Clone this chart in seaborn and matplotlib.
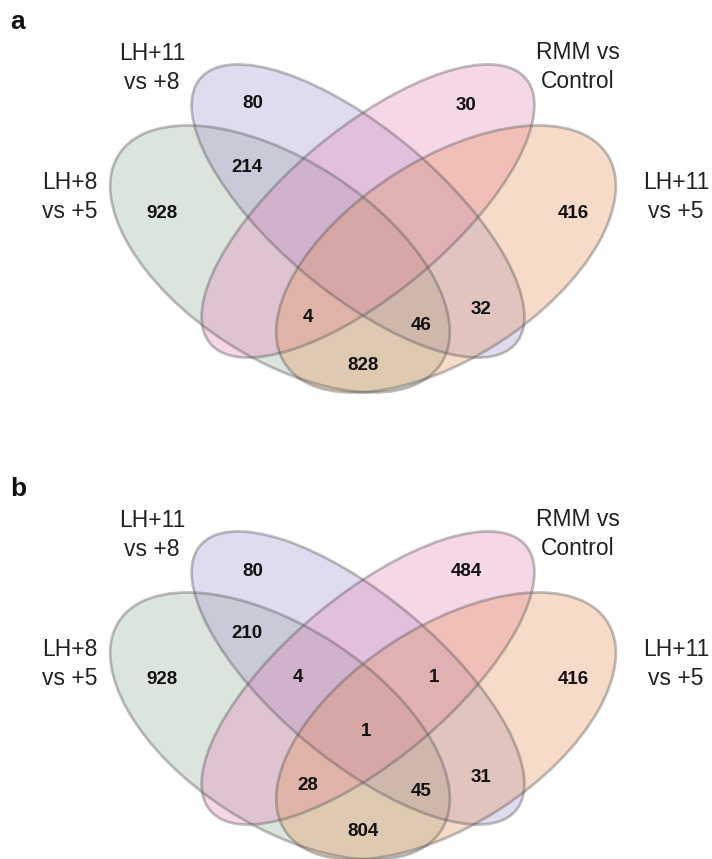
import matplotlib
matplotlib.use("Agg")
import matplotlib.pyplot as plt
import seaborn as sns
from matplotlib.patches import Ellipse

# set names (A = LH+8 vs +5, B = LH+11 vs +8, C = RMM vs Control, D = LH+11 vs +5)
set_names = ["LH+8\nvs +5", "LH+11\nvs +8", "RMM vs\nControl", "LH+11\nvs +5"]
set_colors = ["#8ea894", "#9b8eca", "#e47db6", "#e48e4b"]

# regions of the 4-set venn, counts (None = empty)
region_keys = ["A", "B", "C", "D", "AB", "AC", "AD", "BC", "BD", "CD",
               "ABC", "ABD", "ACD", "BCD", "ABCD"]
counts_a = [928, 80, 30, 416, 214, None, 828, None, 32, None,
            None, 46, 4, None, None]
counts_b = [928, 80, 484, 416, 210, None, 804, None, 31, None,
            4, 45, 28, 1, 1]
panel_letters = ["a", "b"]

sns.set_theme(style="white")
plt.rcParams["font.family"] = ["Liberation Sans", "DejaVu Sans"]

# ellipse geometry in pixels, relative to panel top (x, y, width, height, angle)
ellipses = [
    (280, 259, 384, 198, 33),
    (358, 211, 412, 164, 40),
    (368, 211, 412, 164, -40),
    (446, 259, 384, 198, -33),
]
name_pos = [(70, 197), (152, 68), (578, 67), (676, 197)]
label_pos = {
    "A": (162, 213), "B": (253, 104), "C": (466, 105), "D": (573, 213),
    "AB": (247, 167), "AC": (250, 310), "AD": (363, 365), "BC": (363, 150),
    "BD": (481, 310), "CD": (480, 167), "ABC": (298, 211), "ABD": (421, 325),
    "ACD": (308, 318), "BCD": (434, 210), "ABCD": (366, 265),
}
panel_top = [0, 467]

fig = plt.figure(figsize=(7.12, 8.59), dpi=100)
ax = fig.add_axes([0, 0, 1, 1])
ax.set_xlim(0, 712)
ax.set_ylim(859, 0)
ax.axis("off")

for letter, counts, y0 in zip(panel_letters, [counts_a, counts_b], panel_top):
    # filled ellipses
    for (cx, cy, w, h, ang), col in zip(ellipses, set_colors):
        ax.add_patch(Ellipse((cx, cy + y0), w, h, angle=ang, facecolor=col,
                             edgecolor="none", alpha=0.3))
    # outlines
    for (cx, cy, w, h, ang) in ellipses:
        ax.add_patch(Ellipse((cx, cy + y0), w, h, angle=ang, facecolor="none",
                             edgecolor="#555555", alpha=0.38, lw=2))
    # set names
    for name, (x, y) in zip(set_names, name_pos):
        ax.text(x, y + y0, name, ha="center", va="center", fontsize=16.5,
                color="#222222", linespacing=1.28)
    # counts
    for key, n in zip(region_keys, counts):
        if n is None:
            continue
        x, y = label_pos[key]
        ax.text(x, y + y0, str(n), ha="center", va="center", fontsize=13.5,
                fontweight="bold", color="#111111")
    ax.text(18, 22 + y0, letter, ha="center", va="center", fontsize=19,
            fontweight="bold", color="#111111")

plt.savefig("out.png", dpi=100)
